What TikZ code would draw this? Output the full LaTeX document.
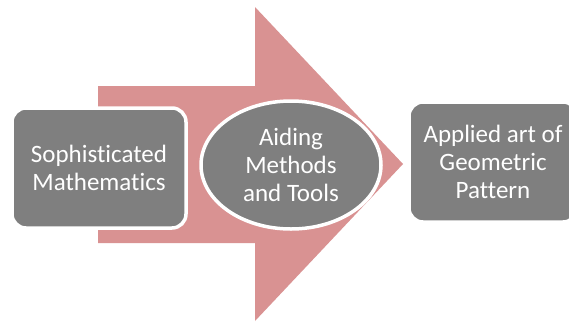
\documentclass[tikz,border=0pt]{standalone}
\usepackage{fontspec}
\setmainfont{Carlito}[Ligatures=NoCommon]
\usetikzlibrary{shapes.geometric}
\definecolor{arrowpink}{RGB}{217,146,146}
\definecolor{boxgray}{RGB}{127,127,127}
\tikzset{stage/.style={fill=boxgray, draw=white, line width=3.5pt, text=white,
    align=center, font=\fontsize{25}{28}\selectfont, inner sep=0pt}}

\begin{document}
\begin{tikzpicture}[x=1pt,y=-1pt]
    \useasboundingbox (0,0) rectangle (569,322);
    \fill[arrowpink] (98,86) -- (255,86) -- (255,7) -- (403,164)
    -- (255,321) -- (255,243) -- (98,243) -- cycle;
    \node[stage, rounded corners=14pt, minimum width=174pt, minimum height=120pt]
    (math) at (99,168) {Sophisticated\\Mathematics};
    \node[stage, ellipse, minimum width=180pt, minimum height=128pt]
    (tools) at (291,165) {Aiding\\Methods\\and Tools};
    \node[stage, rounded corners=14pt, minimum width=168pt, minimum height=120pt]
    (art) at (493,162) {Applied art of\\Geometric\\Pattern};
\end{tikzpicture}
\end{document}
